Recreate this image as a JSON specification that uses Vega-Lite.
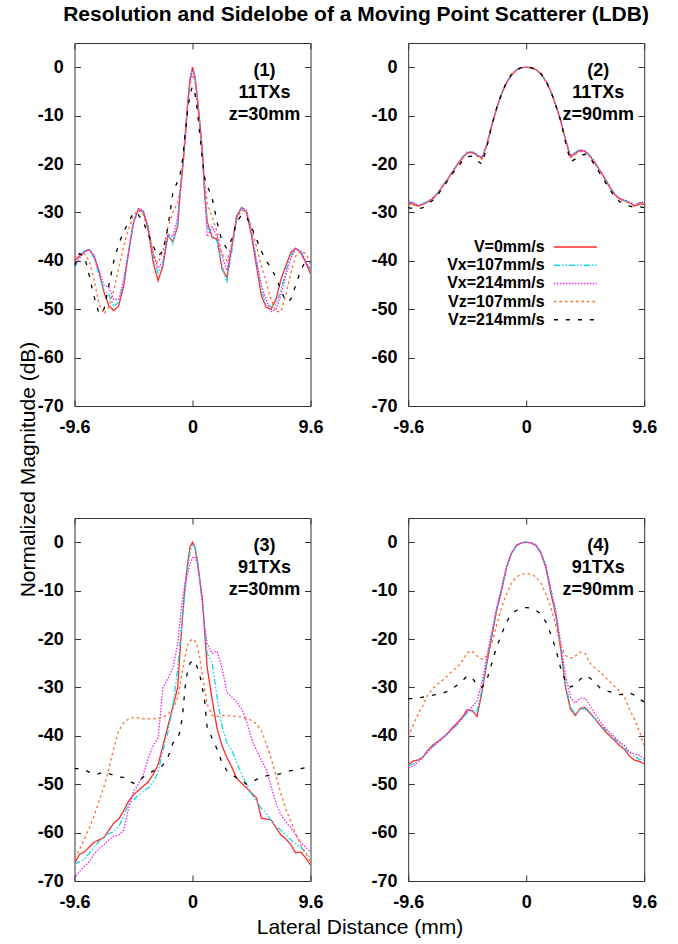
{
"$schema":"https://vega.github.io/schema/vega-lite/v6.json",
"background":"white",
"padding":{"left":16.5,"top":4,"right":5,"bottom":5},
"title":{"text":"Resolution and Sidelobe of a Moving Point Scatterer (LDB)","font":"Liberation Sans","fontSize":21,"fontWeight":"bold","color":"#000","anchor":"start","dx":-11.3,"baseline":"alphabetic","offset":0,"frame":"group"},
"data":{"values":[
{"p":1,"x":-9.6,"a":-40,"b":-41.5,"c":-41,"d":-39.5,"e":-41},
{"p":1,"x":-9.2,"a":-39,"b":-39.5,"c":-39.5,"d":-38.5,"e":-38.5},
{"p":1,"x":-8.8,"a":-38.1,"b":-38,"c":-38,"d":-38.5,"e":-39},
{"p":1,"x":-8.4,"a":-37.7,"b":-37.5,"c":-37.8,"d":-40,"e":-43},
{"p":1,"x":-8.0,"a":-39,"b":-39.5,"c":-39,"d":-44,"e":-47.5},
{"p":1,"x":-7.6,"a":-42.4,"b":-43,"c":-42,"d":-49,"e":-51},
{"p":1,"x":-7.2,"a":-46.5,"b":-46,"c":-45,"d":-51,"e":-50},
{"p":1,"x":-6.8,"a":-49.3,"b":-47,"c":-45.5,"d":-49.5,"e":-45},
{"p":1,"x":-6.4,"a":-50.3,"b":-49.5,"c":-48,"d":-46,"e":-40},
{"p":1,"x":-6.0,"a":-49.3,"b":-48.5,"c":-48,"d":-41.5,"e":-36.5},
{"p":1,"x":-5.6,"a":-45.2,"b":-44.5,"c":-44,"d":-37,"e":-34},
{"p":1,"x":-5.2,"a":-38.3,"b":-38,"c":-38,"d":-33.5,"e":-32},
{"p":1,"x":-4.8,"a":-32.1,"b":-32,"c":-32,"d":-30.5,"e":-30},
{"p":1,"x":-4.4,"a":-29.3,"b":-29.2,"c":-29.2,"d":-29.5,"e":-30.5},
{"p":1,"x":-4.0,"a":-30,"b":-29.8,"c":-29.6,"d":-30.5,"e":-32},
{"p":1,"x":-3.6,"a":-33.5,"b":-33,"c":-33,"d":-34,"e":-34.5},
{"p":1,"x":-3.2,"a":-40.3,"b":-39,"c":-38.5,"d":-38.5,"e":-37},
{"p":1,"x":-2.8,"a":-44.1,"b":-42.5,"c":-41.5,"d":-40.5,"e":-39},
{"p":1,"x":-2.4,"a":-41,"b":-40.5,"c":-40,"d":-38,"e":-38},
{"p":1,"x":-2.0,"a":-34.8,"b":-34.5,"c":-34.5,"d":-33,"e":-33},
{"p":1,"x":-1.6,"a":-36,"b":-36.5,"c":-35,"d":-30,"e":-26},
{"p":1,"x":-1.2,"a":-32.8,"b":-32,"c":-31,"d":-28,"e":-23.5},
{"p":1,"x":-1.0,"a":-26,"b":-26,"c":-25.5,"d":-25,"e":-22},
{"p":1,"x":-0.8,"a":-21,"b":-20.5,"c":-20,"d":-20,"e":-19},
{"p":1,"x":-0.6,"a":-15,"b":-14.5,"c":-14,"d":-14,"e":-14},
{"p":1,"x":-0.4,"a":-8,"b":-7.5,"c":-7.5,"d":-8,"e":-9},
{"p":1,"x":-0.2,"a":-2.5,"b":-2.3,"c":-2.5,"d":-3.5,"e":-5.5},
{"p":1,"x":0,"a":0,"b":-0.5,"c":-0.8,"d":-1.5,"e":-4},
{"p":1,"x":0.2,"a":-2,"b":-1.8,"c":-2,"d":-3,"e":-5.5},
{"p":1,"x":0.4,"a":-6.5,"b":-6.5,"c":-6.5,"d":-7.5,"e":-9},
{"p":1,"x":0.6,"a":-11.5,"b":-12,"c":-12,"d":-13,"e":-14},
{"p":1,"x":0.8,"a":-17,"b":-17.5,"c":-18,"d":-18,"e":-19},
{"p":1,"x":1.0,"a":-26,"b":-26,"c":-27,"d":-24,"e":-23},
{"p":1,"x":1.2,"a":-32,"b":-33,"c":-35,"d":-28,"e":-24.5},
{"p":1,"x":1.6,"a":-35.2,"b":-34.5,"c":-33,"d":-31,"e":-27},
{"p":1,"x":2.0,"a":-35.5,"b":-36,"c":-35,"d":-34,"e":-32},
{"p":1,"x":2.4,"a":-41.7,"b":-41,"c":-39,"d":-38.5,"e":-36},
{"p":1,"x":2.8,"a":-43.4,"b":-44.5,"c":-42,"d":-40,"e":-37.5},
{"p":1,"x":3.2,"a":-36.9,"b":-38,"c":-37,"d":-36.5,"e":-35.5},
{"p":1,"x":3.6,"a":-30.7,"b":-31,"c":-31,"d":-31.5,"e":-32},
{"p":1,"x":4.0,"a":-29,"b":-29,"c":-29,"d":-29.5,"e":-30.5},
{"p":1,"x":4.4,"a":-30,"b":-30,"c":-29.5,"d":-30,"e":-31},
{"p":1,"x":4.8,"a":-34.8,"b":-34,"c":-34,"d":-33,"e":-33},
{"p":1,"x":5.2,"a":-41,"b":-40,"c":-40,"d":-37,"e":-35.5},
{"p":1,"x":5.6,"a":-47.2,"b":-46,"c":-45,"d":-41,"e":-38},
{"p":1,"x":6.0,"a":-49.6,"b":-49,"c":-48,"d":-44.5,"e":-40},
{"p":1,"x":6.4,"a":-50,"b":-49.5,"c":-50.5,"d":-48,"e":-41.5},
{"p":1,"x":6.8,"a":-47.9,"b":-49,"c":-50,"d":-50.5,"e":-43.5},
{"p":1,"x":7.2,"a":-43.8,"b":-46,"c":-47,"d":-50.5,"e":-46},
{"p":1,"x":7.6,"a":-41,"b":-42,"c":-43,"d":-47,"e":-48.5},
{"p":1,"x":8.0,"a":-38.3,"b":-39,"c":-39.5,"d":-42.5,"e":-48},
{"p":1,"x":8.4,"a":-37.4,"b":-37.5,"c":-37.5,"d":-39,"e":-45},
{"p":1,"x":8.8,"a":-38.3,"b":-38,"c":-38,"d":-38,"e":-42},
{"p":1,"x":9.2,"a":-40.3,"b":-40,"c":-40,"d":-38.5,"e":-40},
{"p":1,"x":9.6,"a":-42.7,"b":-42,"c":-42,"d":-40,"e":-40.5},
{"p":2,"x":-9.6,"a":-28,"b":-27.8,"c":-27.8,"d":-28.3,"e":-29},
{"p":2,"x":-9.2,"a":-28.3,"b":-28,"c":-28,"d":-28.5,"e":-29.2},
{"p":2,"x":-8.8,"a":-28.7,"b":-28.5,"c":-28.5,"d":-28.7,"e":-29.3},
{"p":2,"x":-8.4,"a":-28.3,"b":-28.2,"c":-28.3,"d":-28.4,"e":-29},
{"p":2,"x":-8.0,"a":-27.8,"b":-27.7,"c":-27.8,"d":-27.9,"e":-28.3},
{"p":2,"x":-7.6,"a":-27.2,"b":-27,"c":-27,"d":-27.3,"e":-27.5},
{"p":2,"x":-7.2,"a":-26,"b":-26,"c":-26,"d":-26.2,"e":-26.5},
{"p":2,"x":-6.8,"a":-24.6,"b":-24.5,"c":-24.5,"d":-24.6,"e":-24.8},
{"p":2,"x":-6.4,"a":-23.2,"b":-23.2,"c":-23.2,"d":-23.2,"e":-23.5},
{"p":2,"x":-6.0,"a":-21.6,"b":-21.6,"c":-21.6,"d":-21.6,"e":-22},
{"p":2,"x":-5.6,"a":-20.2,"b":-20,"c":-20,"d":-20.2,"e":-20.7},
{"p":2,"x":-5.2,"a":-18.8,"b":-18.6,"c":-18.7,"d":-18.9,"e":-19.4},
{"p":2,"x":-4.8,"a":-17.7,"b":-17.5,"c":-17.6,"d":-17.8,"e":-18.5},
{"p":2,"x":-4.4,"a":-17.6,"b":-17.4,"c":-17.5,"d":-17.7,"e":-18.4},
{"p":2,"x":-4.0,"a":-18.2,"b":-18,"c":-18.1,"d":-18.4,"e":-19.3},
{"p":2,"x":-3.6,"a":-18.8,"b":-18.6,"c":-18.7,"d":-19,"e":-20},
{"p":2,"x":-3.2,"a":-16,"b":-16,"c":-16,"d":-16.2,"e":-16.5},
{"p":2,"x":-2.8,"a":-12,"b":-12,"c":-12,"d":-12,"e":-12},
{"p":2,"x":-2.4,"a":-8.5,"b":-8.5,"c":-8.5,"d":-8.5,"e":-8.4},
{"p":2,"x":-2.0,"a":-5.5,"b":-5.5,"c":-5.5,"d":-5.5,"e":-5.4},
{"p":2,"x":-1.6,"a":-3.2,"b":-3.2,"c":-3.2,"d":-3.2,"e":-3.1},
{"p":2,"x":-1.2,"a":-1.6,"b":-1.6,"c":-1.6,"d":-1.6,"e":-1.5},
{"p":2,"x":-0.8,"a":-0.6,"b":-0.6,"c":-0.6,"d":-0.6,"e":-0.5},
{"p":2,"x":-0.4,"a":-0.1,"b":-0.1,"c":-0.1,"d":-0.1,"e":-0.1},
{"p":2,"x":0,"a":0,"b":0,"c":0,"d":0,"e":0},
{"p":2,"x":0.4,"a":-0.1,"b":-0.1,"c":-0.1,"d":-0.1,"e":-0.1},
{"p":2,"x":0.8,"a":-0.5,"b":-0.5,"c":-0.5,"d":-0.5,"e":-0.5},
{"p":2,"x":1.2,"a":-1.4,"b":-1.4,"c":-1.4,"d":-1.4,"e":-1.3},
{"p":2,"x":1.6,"a":-2.9,"b":-2.9,"c":-2.9,"d":-2.9,"e":-2.8},
{"p":2,"x":2.0,"a":-5,"b":-5,"c":-5,"d":-5,"e":-4.9},
{"p":2,"x":2.4,"a":-7.8,"b":-7.8,"c":-7.8,"d":-7.8,"e":-7.8},
{"p":2,"x":2.8,"a":-11,"b":-11,"c":-11,"d":-11,"e":-11},
{"p":2,"x":3.2,"a":-15,"b":-15,"c":-15,"d":-15.2,"e":-15.5},
{"p":2,"x":3.6,"a":-18.5,"b":-18.3,"c":-18.4,"d":-18.7,"e":-19.5},
{"p":2,"x":4.0,"a":-17.8,"b":-17.6,"c":-17.7,"d":-18,"e":-19},
{"p":2,"x":4.4,"a":-17.2,"b":-17,"c":-17.1,"d":-17.4,"e":-18.2},
{"p":2,"x":4.8,"a":-17.4,"b":-17.3,"c":-17.3,"d":-17.6,"e":-18},
{"p":2,"x":5.2,"a":-18.4,"b":-18.3,"c":-18.3,"d":-18.5,"e":-18.8},
{"p":2,"x":5.6,"a":-19.8,"b":-19.7,"c":-19.7,"d":-19.9,"e":-20.3},
{"p":2,"x":6.0,"a":-21.4,"b":-21.3,"c":-21.3,"d":-21.5,"e":-22},
{"p":2,"x":6.4,"a":-23,"b":-23,"c":-23,"d":-23.1,"e":-23.6},
{"p":2,"x":6.8,"a":-24.8,"b":-24.7,"c":-24.7,"d":-24.9,"e":-25.3},
{"p":2,"x":7.2,"a":-26.3,"b":-26.2,"c":-26.2,"d":-26.4,"e":-26.8},
{"p":2,"x":7.6,"a":-27.2,"b":-27.1,"c":-27.1,"d":-27.3,"e":-27.8},
{"p":2,"x":8.0,"a":-27.6,"b":-27.5,"c":-27.5,"d":-27.7,"e":-28.2},
{"p":2,"x":8.4,"a":-28,"b":-27.9,"c":-27.9,"d":-28.1,"e":-28.7},
{"p":2,"x":8.8,"a":-28.7,"b":-28.5,"c":-28.5,"d":-28.7,"e":-29},
{"p":2,"x":9.2,"a":-28.3,"b":-28,"c":-28,"d":-28.4,"e":-28.8},
{"p":2,"x":9.6,"a":-28.2,"b":-27.8,"c":-27.9,"d":-28.3,"e":-29},
{"p":3,"x":-9.6,"a":-66.4,"b":-66.5,"c":-69.5,"d":-65.3,"e":-46.8},
{"p":3,"x":-9.2,"a":-64.5,"b":-66,"c":-68,"d":-63.5,"e":-46.8},
{"p":3,"x":-8.8,"a":-64,"b":-65.5,"c":-67,"d":-61.3,"e":-47},
{"p":3,"x":-8.4,"a":-63,"b":-64.3,"c":-66,"d":-59,"e":-47.5},
{"p":3,"x":-8.0,"a":-62,"b":-63,"c":-64.5,"d":-56.5,"e":-48},
{"p":3,"x":-7.6,"a":-61.5,"b":-61.8,"c":-63.3,"d":-53.5,"e":-47.8},
{"p":3,"x":-7.2,"a":-61,"b":-61,"c":-62.5,"d":-50.5,"e":-47.5},
{"p":3,"x":-6.8,"a":-59.5,"b":-60.2,"c":-61.5,"d":-46.8,"e":-47.8},
{"p":3,"x":-6.4,"a":-58,"b":-59.8,"c":-60.8,"d":-42.5,"e":-48.2},
{"p":3,"x":-6.0,"a":-57.2,"b":-58.8,"c":-60.5,"d":-39,"e":-48.5},
{"p":3,"x":-5.6,"a":-55.5,"b":-56.5,"c":-59.5,"d":-37.3,"e":-48.6},
{"p":3,"x":-5.2,"a":-53.5,"b":-54.2,"c":-55,"d":-36.5,"e":-49.3},
{"p":3,"x":-4.8,"a":-52.2,"b":-53.2,"c":-51.5,"d":-36.2,"e":-49.8},
{"p":3,"x":-4.4,"a":-51.3,"b":-52.3,"c":-50,"d":-36.3,"e":-49.5},
{"p":3,"x":-4.0,"a":-50.4,"b":-51.5,"c":-48,"d":-36.5,"e":-48.5},
{"p":3,"x":-3.6,"a":-49.5,"b":-50.8,"c":-44.7,"d":-36.5,"e":-47.8},
{"p":3,"x":-3.2,"a":-48,"b":-49.5,"c":-42,"d":-36.5,"e":-47.3},
{"p":3,"x":-2.8,"a":-46,"b":-47.5,"c":-40.5,"d":-36.5,"e":-47},
{"p":3,"x":-2.4,"a":-42,"b":-43,"c":-30,"d":-36.2,"e":-46},
{"p":3,"x":-2.0,"a":-38,"b":-39.2,"c":-28.2,"d":-35.5,"e":-44.5},
{"p":3,"x":-1.6,"a":-34,"b":-34,"c":-26,"d":-34.5,"e":-41.5},
{"p":3,"x":-1.2,"a":-30,"b":-26,"c":-21,"d":-32,"e":-40.5},
{"p":3,"x":-1.0,"a":-22,"b":-20.5,"c":-16,"d":-29.5,"e":-39},
{"p":3,"x":-0.8,"a":-15,"b":-15,"c":-11.5,"d":-26,"e":-35.5},
{"p":3,"x":-0.6,"a":-9,"b":-10,"c":-8.5,"d":-23.5,"e":-30},
{"p":3,"x":-0.4,"a":-4.5,"b":-5.5,"c":-6.5,"d":-21.3,"e":-26.5},
{"p":3,"x":-0.2,"a":-1,"b":-2,"c":-4.5,"d":-20.4,"e":-25},
{"p":3,"x":0,"a":0,"b":-0.6,"c":-3.2,"d":-20,"e":-24.5},
{"p":3,"x":0.2,"a":-1,"b":-1,"c":-3,"d":-20.4,"e":-24.5},
{"p":3,"x":0.4,"a":-4,"b":-3.5,"c":-4.5,"d":-21.5,"e":-26},
{"p":3,"x":0.6,"a":-8,"b":-8,"c":-8,"d":-24,"e":-27.5},
{"p":3,"x":0.8,"a":-11.5,"b":-12.5,"c":-12.5,"d":-27.5,"e":-30},
{"p":3,"x":1.0,"a":-19,"b":-17.5,"c":-18,"d":-30.5,"e":-33},
{"p":3,"x":1.2,"a":-26,"b":-23,"c":-21,"d":-33.5,"e":-38.5},
{"p":3,"x":1.6,"a":-32.5,"b":-25,"c":-23,"d":-35.8,"e":-40.5},
{"p":3,"x":2.0,"a":-38.5,"b":-32,"c":-22.5,"d":-36,"e":-42.8},
{"p":3,"x":2.4,"a":-42,"b":-38,"c":-26,"d":-35.8,"e":-45.6},
{"p":3,"x":2.8,"a":-44.5,"b":-41.5,"c":-31,"d":-35.8,"e":-47.2},
{"p":3,"x":3.2,"a":-46.5,"b":-43,"c":-32,"d":-35.9,"e":-48},
{"p":3,"x":3.6,"a":-48.8,"b":-45.5,"c":-33,"d":-36,"e":-48.7},
{"p":3,"x":4.0,"a":-49.8,"b":-48,"c":-34.5,"d":-36.1,"e":-49.3},
{"p":3,"x":4.4,"a":-50.8,"b":-50,"c":-37,"d":-36.5,"e":-50},
{"p":3,"x":4.8,"a":-51.8,"b":-52,"c":-40.5,"d":-36.8,"e":-49.7},
{"p":3,"x":5.2,"a":-52.8,"b":-53.5,"c":-43,"d":-37.5,"e":-49},
{"p":3,"x":5.6,"a":-57,"b":-55,"c":-45,"d":-39,"e":-48.6},
{"p":3,"x":6.0,"a":-57.2,"b":-56,"c":-47,"d":-41.5,"e":-48.3},
{"p":3,"x":6.4,"a":-57.4,"b":-57.5,"c":-50.5,"d":-44.7,"e":-48.1},
{"p":3,"x":6.8,"a":-59,"b":-58.7,"c":-54,"d":-48.3,"e":-48},
{"p":3,"x":7.2,"a":-60.5,"b":-59.5,"c":-56.3,"d":-52,"e":-47.8},
{"p":3,"x":7.6,"a":-61.3,"b":-60.5,"c":-57.8,"d":-55.2,"e":-47.5},
{"p":3,"x":8.0,"a":-62.5,"b":-61.5,"c":-59,"d":-57.8,"e":-47.2},
{"p":3,"x":8.4,"a":-64.2,"b":-62.3,"c":-60.5,"d":-60.2,"e":-47},
{"p":3,"x":8.8,"a":-64,"b":-63,"c":-62,"d":-62.5,"e":-46.8},
{"p":3,"x":9.2,"a":-65.2,"b":-64,"c":-63,"d":-64.3,"e":-46.6},
{"p":3,"x":9.6,"a":-66.7,"b":-65.3,"c":-64,"d":-66,"e":-46.4},
{"p":4,"x":-9.6,"a":-46,"b":-46.2,"c":-46.5,"d":-40.2,"e":-32.3},
{"p":4,"x":-9.2,"a":-45.2,"b":-45.8,"c":-46.3,"d":-37.8,"e":-32.3},
{"p":4,"x":-8.8,"a":-45,"b":-45.2,"c":-45.5,"d":-35.5,"e":-32.2},
{"p":4,"x":-8.4,"a":-44.4,"b":-44.3,"c":-44.5,"d":-33.7,"e":-32},
{"p":4,"x":-8.0,"a":-43,"b":-43.2,"c":-43.3,"d":-31.5,"e":-31.8},
{"p":4,"x":-7.6,"a":-41.9,"b":-42.2,"c":-42.3,"d":-30.3,"e":-31.6},
{"p":4,"x":-7.2,"a":-41.2,"b":-41.3,"c":-41.4,"d":-29.3,"e":-31.4},
{"p":4,"x":-6.8,"a":-40.4,"b":-40.5,"c":-40.5,"d":-28.5,"e":-31.2},
{"p":4,"x":-6.4,"a":-39.5,"b":-39.6,"c":-39.6,"d":-27.6,"e":-30.8},
{"p":4,"x":-6.0,"a":-38.3,"b":-38.6,"c":-38.6,"d":-26.6,"e":-30.2},
{"p":4,"x":-5.6,"a":-37.3,"b":-37.6,"c":-37.6,"d":-25.8,"e":-29.5},
{"p":4,"x":-5.2,"a":-36.2,"b":-36.5,"c":-36.3,"d":-24.6,"e":-28.7},
{"p":4,"x":-4.8,"a":-34.6,"b":-35.2,"c":-35,"d":-22.8,"e":-27.6},
{"p":4,"x":-4.4,"a":-34.8,"b":-34.8,"c":-34,"d":-22.5,"e":-28},
{"p":4,"x":-4.0,"a":-36,"b":-35,"c":-32.8,"d":-23.5,"e":-29.5},
{"p":4,"x":-3.6,"a":-31,"b":-30.5,"c":-29,"d":-24.2,"e":-30},
{"p":4,"x":-3.2,"a":-25,"b":-24.5,"c":-23.5,"d":-23.5,"e":-28.5},
{"p":4,"x":-2.8,"a":-19.5,"b":-19,"c":-18.5,"d":-21,"e":-25},
{"p":4,"x":-2.4,"a":-14,"b":-13.8,"c":-13.5,"d":-17,"e":-21.6},
{"p":4,"x":-2.0,"a":-10,"b":-9.7,"c":-9.3,"d":-13.5,"e":-19},
{"p":4,"x":-1.6,"a":-5.2,"b":-5.1,"c":-5,"d":-10.7,"e":-16.5},
{"p":4,"x":-1.2,"a":-2.3,"b":-2.3,"c":-2.2,"d":-8.5,"e":-14.8},
{"p":4,"x":-0.8,"a":-0.7,"b":-0.7,"c":-0.7,"d":-7.2,"e":-14.1},
{"p":4,"x":-0.4,"a":-0.15,"b":-0.1,"c":-0.1,"d":-6.6,"e":-13.6},
{"p":4,"x":0,"a":0,"b":0,"c":-0.1,"d":-6.5,"e":-13.5},
{"p":4,"x":0.4,"a":-0.15,"b":-0.1,"c":-0.1,"d":-6.6,"e":-13.6},
{"p":4,"x":0.8,"a":-0.7,"b":-0.6,"c":-0.6,"d":-7.2,"e":-14.1},
{"p":4,"x":1.2,"a":-2.3,"b":-2.1,"c":-2.1,"d":-8.5,"e":-14.8},
{"p":4,"x":1.6,"a":-5.2,"b":-4.9,"c":-4.8,"d":-10.7,"e":-16.5},
{"p":4,"x":2.0,"a":-10.5,"b":-10,"c":-9.5,"d":-13.5,"e":-19},
{"p":4,"x":2.4,"a":-15,"b":-14.5,"c":-14,"d":-17,"e":-22},
{"p":4,"x":2.8,"a":-22,"b":-21.5,"c":-20.5,"d":-21.5,"e":-26},
{"p":4,"x":3.2,"a":-30,"b":-29.5,"c":-27.5,"d":-23.4,"e":-28.8},
{"p":4,"x":3.6,"a":-34.5,"b":-34,"c":-32,"d":-24,"e":-29.9},
{"p":4,"x":4.0,"a":-35.8,"b":-35.5,"c":-33.2,"d":-23.5,"e":-29.5},
{"p":4,"x":4.4,"a":-34.3,"b":-34.5,"c":-32.2,"d":-22.7,"e":-28.3},
{"p":4,"x":4.8,"a":-34.2,"b":-34.5,"c":-32.3,"d":-23,"e":-27.5},
{"p":4,"x":5.2,"a":-35.3,"b":-35.4,"c":-33.8,"d":-25,"e":-28.1},
{"p":4,"x":5.6,"a":-36.5,"b":-36.4,"c":-35.5,"d":-26,"e":-29},
{"p":4,"x":6.0,"a":-37.8,"b":-37.5,"c":-37,"d":-26.8,"e":-30.1},
{"p":4,"x":6.4,"a":-39,"b":-38.6,"c":-38.3,"d":-27.8,"e":-30.6},
{"p":4,"x":6.8,"a":-40,"b":-39.6,"c":-39.3,"d":-28.8,"e":-30.9},
{"p":4,"x":7.2,"a":-41,"b":-40.6,"c":-40.3,"d":-29.8,"e":-31.2},
{"p":4,"x":7.6,"a":-42,"b":-41.5,"c":-41.3,"d":-30.8,"e":-31.5},
{"p":4,"x":8.0,"a":-42.8,"b":-42.5,"c":-42,"d":-32,"e":-31.4},
{"p":4,"x":8.4,"a":-44.2,"b":-43.6,"c":-43.3,"d":-34.5,"e":-31.1},
{"p":4,"x":8.8,"a":-45,"b":-44.3,"c":-43.8,"d":-36.5,"e":-31.6},
{"p":4,"x":9.2,"a":-45.3,"b":-44.8,"c":-44,"d":-39,"e":-32.4},
{"p":4,"x":9.6,"a":-45.8,"b":-45.2,"c":-44.8,"d":-42,"e":-33}
]},
"columns":2,
"spacing":{"row":112,"column":97.7},
"bounds":"flush",
"concat":[
{"width":236,"height":363,"resolve":{"axis":{"x":"independent","y":"independent"}},
"layer":[
{"transform":[{"filter":"datum.p==1"},{"fold":["a","b","c","d","e"],"as":["s","v"]}],
"mark":{"type":"line","strokeWidth":1.3,"clip":true},
"encoding":{
"x":{"field":"x","type":"quantitative","scale":{"domain":[-9.6,9.6],"nice":false,"zero":false},"axis":{"values":[-9.6,0,9.6],"labelExpr":"''+datum.value","title":null}},
"y":{"field":"v","type":"quantitative","scale":{"domain":[-70,5],"nice":false,"zero":false},"axis":{"values":[-70,-60,-50,-40,-30,-20,-10,0],"labelExpr":"''+datum.value","title":null}},
"color":{"field":"s","type":"nominal","scale":{"domain":["a","b","c","d","e"],"range":["#ff2a2a","#10d8e0","#f020f0","#ff6a30","#000000"]},"legend":{"title":null,"labelExpr":"{'a':'V=0mm/s','b':'Vx=107mm/s','c':'Vx=214mm/s','d':'Vz=107mm/s','e':'Vz=214mm/s'}[datum.label]"}},
"strokeDash":{"field":"s","type":"nominal","scale":{"domain":["a","b","c","d","e"],"range":[[1,0],[6,2,1.5,2,1.5,2],[1.5,1.5],[2.5,3],[4,8]]},"legend":{"title":null,"labelExpr":"{'a':'V=0mm/s','b':'Vx=107mm/s','c':'Vx=214mm/s','d':'Vz=107mm/s','e':'Vz=214mm/s'}[datum.label]"}}}},
{"data":{"values":[{}]},"mark":{"type":"text","font":"Liberation Sans","fontSize":18,"fontWeight":"bold","lineHeight":22.3,"align":"center","baseline":"middle","color":"#000"},
"encoding":{"x":{"datum":5.86,"type":"quantitative","axis":{"orient":"top","labels":false,"title":null,"values":[-9.6,0,9.6]}},
"y":{"datum":-0.7,"type":"quantitative","axis":{"orient":"right","labels":false,"title":null,"values":[-70,-60,-50,-40,-30,-20,-10,0]}},
"text":{"value":["(1)","11TXs","z=30mm"]}}}
]},
{"width":236,"height":363,"resolve":{"axis":{"x":"independent","y":"independent"}},
"layer":[
{"transform":[{"filter":"datum.p==2"},{"fold":["a","b","c","d","e"],"as":["s","v"]}],
"mark":{"type":"line","strokeWidth":1.3,"clip":true},
"encoding":{
"x":{"field":"x","type":"quantitative","scale":{"domain":[-9.6,9.6],"nice":false,"zero":false},"axis":{"values":[-9.6,0,9.6],"labelExpr":"''+datum.value","title":null}},
"y":{"field":"v","type":"quantitative","scale":{"domain":[-70,5],"nice":false,"zero":false},"axis":{"values":[-70,-60,-50,-40,-30,-20,-10,0],"labelExpr":"''+datum.value","title":null}},
"color":{"field":"s","type":"nominal","scale":{"domain":["a","b","c","d","e"],"range":["#ff2a2a","#10d8e0","#f020f0","#ff6a30","#000000"]},"legend":{"title":null,"labelExpr":"{'a':'V=0mm/s','b':'Vx=107mm/s','c':'Vx=214mm/s','d':'Vz=107mm/s','e':'Vz=214mm/s'}[datum.label]"}},
"strokeDash":{"field":"s","type":"nominal","scale":{"domain":["a","b","c","d","e"],"range":[[1,0],[6,2,1.5,2,1.5,2],[1.5,1.5],[2.5,3],[4,8]]},"legend":{"title":null,"labelExpr":"{'a':'V=0mm/s','b':'Vx=107mm/s','c':'Vx=214mm/s','d':'Vz=107mm/s','e':'Vz=214mm/s'}[datum.label]"}}}},
{"data":{"values":[{}]},"mark":{"type":"text","font":"Liberation Sans","fontSize":18,"fontWeight":"bold","lineHeight":22.3,"align":"center","baseline":"middle","color":"#000"},
"encoding":{"x":{"datum":5.86,"type":"quantitative","axis":{"orient":"top","labels":false,"title":null,"values":[-9.6,0,9.6]}},
"y":{"datum":-0.7,"type":"quantitative","axis":{"orient":"right","labels":false,"title":null,"values":[-70,-60,-50,-40,-30,-20,-10,0]}},
"text":{"value":["(2)","11TXs","z=90mm"]}}}
]},
{"width":236,"height":363,"resolve":{"axis":{"x":"independent","y":"independent"}},
"layer":[
{"transform":[{"filter":"datum.p==3"},{"fold":["a","b","c","d","e"],"as":["s","v"]}],
"mark":{"type":"line","strokeWidth":1.3,"clip":true},
"encoding":{
"x":{"field":"x","type":"quantitative","scale":{"domain":[-9.6,9.6],"nice":false,"zero":false},"axis":{"values":[-9.6,0,9.6],"labelExpr":"''+datum.value","title":"Lateral Distance (mm)","titleX":285,"titleY":52.3,"titleBaseline":"alphabetic","titleAlign":"center"}},
"y":{"field":"v","type":"quantitative","scale":{"domain":[-70,5],"nice":false,"zero":false},"axis":{"values":[-70,-60,-50,-40,-30,-20,-10,0],"labelExpr":"''+datum.value","title":"Normalized Magnitude (dB)","titleX":-40,"titleY":-49,"titleBaseline":"alphabetic","titleAlign":"center"}},
"color":{"field":"s","type":"nominal","scale":{"domain":["a","b","c","d","e"],"range":["#ff2a2a","#10d8e0","#f020f0","#ff6a30","#000000"]},"legend":{"title":null,"labelExpr":"{'a':'V=0mm/s','b':'Vx=107mm/s','c':'Vx=214mm/s','d':'Vz=107mm/s','e':'Vz=214mm/s'}[datum.label]"}},
"strokeDash":{"field":"s","type":"nominal","scale":{"domain":["a","b","c","d","e"],"range":[[1,0],[6,2,1.5,2,1.5,2],[1.5,1.5],[2.5,3],[4,8]]},"legend":{"title":null,"labelExpr":"{'a':'V=0mm/s','b':'Vx=107mm/s','c':'Vx=214mm/s','d':'Vz=107mm/s','e':'Vz=214mm/s'}[datum.label]"}}}},
{"data":{"values":[{}]},"mark":{"type":"text","font":"Liberation Sans","fontSize":18,"fontWeight":"bold","lineHeight":22.3,"align":"center","baseline":"middle","color":"#000"},
"encoding":{"x":{"datum":5.86,"type":"quantitative","axis":{"orient":"top","labels":false,"title":null,"values":[-9.6,0,9.6]}},
"y":{"datum":-0.7,"type":"quantitative","axis":{"orient":"right","labels":false,"title":null,"values":[-70,-60,-50,-40,-30,-20,-10,0]}},
"text":{"value":["(3)","91TXs","z=30mm"]}}}
]},
{"width":236,"height":363,"resolve":{"axis":{"x":"independent","y":"independent"}},
"layer":[
{"transform":[{"filter":"datum.p==4"},{"fold":["a","b","c","d","e"],"as":["s","v"]}],
"mark":{"type":"line","strokeWidth":1.3,"clip":true},
"encoding":{
"x":{"field":"x","type":"quantitative","scale":{"domain":[-9.6,9.6],"nice":false,"zero":false},"axis":{"values":[-9.6,0,9.6],"labelExpr":"''+datum.value","title":null}},
"y":{"field":"v","type":"quantitative","scale":{"domain":[-70,5],"nice":false,"zero":false},"axis":{"values":[-70,-60,-50,-40,-30,-20,-10,0],"labelExpr":"''+datum.value","title":null}},
"color":{"field":"s","type":"nominal","scale":{"domain":["a","b","c","d","e"],"range":["#ff2a2a","#10d8e0","#f020f0","#ff6a30","#000000"]},"legend":{"title":null,"labelExpr":"{'a':'V=0mm/s','b':'Vx=107mm/s','c':'Vx=214mm/s','d':'Vz=107mm/s','e':'Vz=214mm/s'}[datum.label]"}},
"strokeDash":{"field":"s","type":"nominal","scale":{"domain":["a","b","c","d","e"],"range":[[1,0],[6,2,1.5,2,1.5,2],[1.5,1.5],[2.5,3],[4,8]]},"legend":{"title":null,"labelExpr":"{'a':'V=0mm/s','b':'Vx=107mm/s','c':'Vx=214mm/s','d':'Vz=107mm/s','e':'Vz=214mm/s'}[datum.label]"}}}},
{"data":{"values":[{}]},"mark":{"type":"text","font":"Liberation Sans","fontSize":18,"fontWeight":"bold","lineHeight":22.3,"align":"center","baseline":"middle","color":"#000"},
"encoding":{"x":{"datum":5.86,"type":"quantitative","axis":{"orient":"top","labels":false,"title":null,"values":[-9.6,0,9.6]}},
"y":{"datum":-0.7,"type":"quantitative","axis":{"orient":"right","labels":false,"title":null,"values":[-70,-60,-50,-40,-30,-20,-10,0]}},
"text":{"value":["(4)","91TXs","z=90mm"]}}}
]}
],
"config":{
"view":{"stroke":"#333","strokeWidth":1},
"axis":{"domain":false,"grid":false,"tickColor":"#333","tickSize":-6,"tickWidth":1,"labelFont":"Liberation Sans","labelFontSize":18,"labelFontWeight":"bold","labelColor":"#000","labelFlush":false,"labelOverlap":false,"titleFont":"Liberation Sans","titleFontSize":21,"titleFontWeight":"normal","titleColor":"#000"},
"axisX":{"labelPadding":18.7},
"axisY":{"labelPadding":17.3},
"legend":{"orient":"none","legendX":365.7,"legendY":196,"padding":0,"symbolType":"M-5,0H5","symbolSize":74,"symbolStrokeWidth":1.5,"labelFont":"Liberation Sans","labelFontSize":16,"labelFontWeight":"bold","labelColor":"#000","labelAlign":"right","labelOffset":-38.8,"symbolOffset":127.2,"rowPadding":2.2,"labelLimit":300}
}
}
